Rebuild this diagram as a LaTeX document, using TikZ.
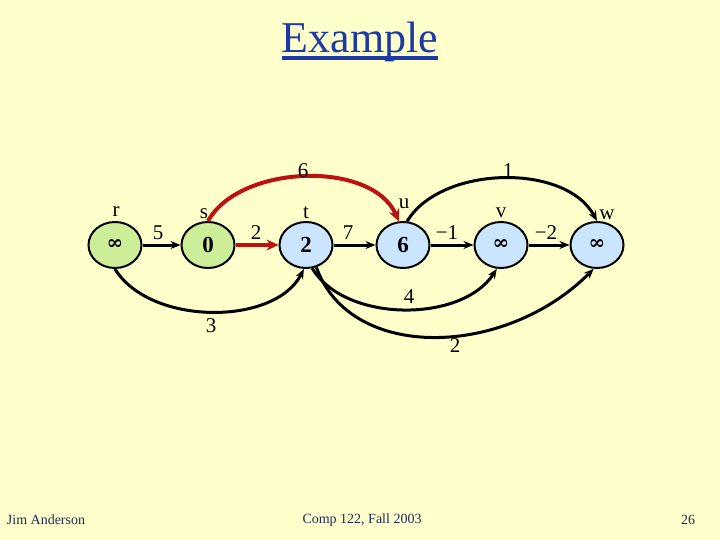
\documentclass[tikz,border=0pt]{standalone}
\usepackage{fontspec}
\setmainfont{Liberation Serif}
\newfontfamily\inffont{DejaVu Serif}
\usetikzlibrary{arrows.meta,shapes.geometric}
\definecolor{bg}{HTML}{FFFFCC}
\definecolor{gfill}{HTML}{CCEE99}
\definecolor{bfill}{HTML}{CCE5FF}
\definecolor{titleblue}{HTML}{1C3AA6}
\definecolor{footc}{HTML}{1F2A5A}
\definecolor{redarc}{HTML}{BB1111}
\newcommand{\infsym}{{\inffont\bfseries\fontsize{20}{20}\selectfont ∞}}
\tikzset{
  vert/.style={ellipse, draw=black, line width=2pt, minimum width=53pt, minimum height=46pt, inner sep=0pt, font=\fontsize{23}{23}\selectfont\bfseries},
  gv/.style={vert, fill=gfill},
  bv/.style={vert, fill=bfill},
  lbl/.style={font=\fontsize{21}{21}\selectfont, inner sep=0pt},
  edge/.style={line width=3pt, -{Stealth[length=10pt,width=8pt]}},
  redge/.style={line width=4pt, draw=redarc, -{Stealth[length=12pt,width=11pt]}},
  foot/.style={font=\fontsize{14}{14}\selectfont, text=footc, inner sep=0pt}
}
\begin{document}
\begin{tikzpicture}[x=1pt,y=-1pt]
\fill[bg] (0,0) rectangle (720,540);
\useasboundingbox (0,0) rectangle (720,540);
% title
\node[font=\fontsize{44}{44}\selectfont, text=titleblue, inner sep=0pt, anchor=base] (title) at (360,53) {Example};
\draw[titleblue, line width=4pt] ([yshift=-5pt]title.base west) -- ([yshift=-5pt]title.base east);
% vertices
\node[gv] (r) at (115,245) {\infsym};
\node[gv] (s) at (208,245) {0};
\node[bv] (t) at (306,245) {2};
\node[bv] (u) at (403,245) {6};
\node[bv] (v) at (501,245) {\infsym};
\node[bv] (w) at (597,245) {\infsym};
% vertex names
\node[lbl] (nr) at (116,212) {r};
\node[lbl] (ns) at (204,214) {s};
\node[lbl] (nt) at (306,213) {t};
\node[lbl] (nu) at (404,204) {u};
\node[lbl] (nv) at (501,213) {v};
\node[lbl] (nw) at (607,215) {w};
% straight edges
\draw[edge] (r) -- (s);
\draw[redge] (s) -- (t);
\draw[edge] (t) -- (u);
\draw[edge] (u) -- (v);
\draw[edge] (v) -- (w);
\node[lbl] (l5) at (158,233) {5};
\node[lbl] (l2a) at (256,233) {2};
\node[lbl] (l7) at (348,233) {7};
\node[lbl] (lm1) at (447,233) {−1};
\node[lbl] (lm2) at (546,233) {−2};
% top arcs
\draw[redge] (s.north) .. controls (240,164) and (372,160) .. (u.100);
\draw[edge] (u.80) .. controls (440,166) and (565,162) .. (w.north);
\node[lbl] (l6) at (303,171) {6};
\node[lbl] (l1) at (508,171) {1};
% bottom arcs
\draw[edge] (r.south) .. controls (150,326) and (275,326) .. (t.265);
\draw[edge] (t.285) .. controls (345,323) and (462,323) .. (v.260);
\draw[edge] (t.295) .. controls (350,362) and (505,358) .. (w.262);
\node[lbl] (l3) at (211,326) {3};
\node[lbl] (l4) at (409,297) {4};
\node[lbl] (l2b) at (455,346) {2};
% footer
\node[foot] (f1) at (46,520) {Jim Anderson};
\node[foot] (f2) at (362,520) {Comp 122, Fall 2003};
\node[foot] (f3) at (688,520) {26};
\end{tikzpicture}
\end{document}
